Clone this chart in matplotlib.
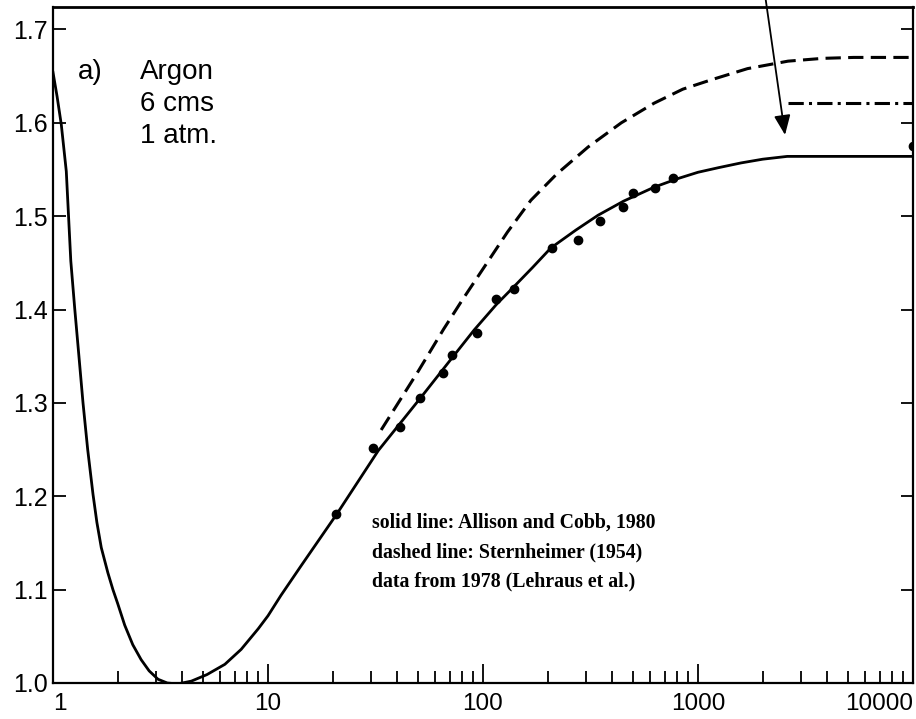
import matplotlib
matplotlib.use("Agg")
import matplotlib.pyplot as plt
from matplotlib.ticker import FixedLocator, NullFormatter

# ---- data ----
solid_x = [1.0, 1.045, 1.093, 1.153, 1.21, 1.262, 1.32, 1.379, 1.45, 1.535, 1.6, 1.677,
           1.8, 1.90, 2.0, 2.155, 2.35, 2.57, 2.8, 3.08, 3.4, 3.8, 4.4, 5.2, 6.3, 7.5,
           9.0, 10.0, 11.5, 14.3, 20.9, 32.6, 51.5, 70, 90.9, 115, 140, 170, 207, 270,
           343, 450, 625, 800, 1000, 1250, 1585, 2000, 2600, 10000]
solid_y = [1.654, 1.628, 1.598, 1.548, 1.452, 1.401, 1.350, 1.300, 1.250, 1.202, 1.172,
           1.145, 1.118, 1.100, 1.085, 1.062, 1.041, 1.025, 1.013, 1.004, 1.000, 0.999,
           1.002, 1.009, 1.020, 1.036, 1.058, 1.072, 1.094, 1.126, 1.181, 1.249, 1.306,
           1.345, 1.378, 1.405, 1.425, 1.445, 1.466, 1.485, 1.501, 1.516, 1.531, 1.540,
           1.547, 1.552, 1.557, 1.561, 1.564, 1.564]

dashed_x = [33.6, 50, 65.6, 80, 101, 130, 167, 220, 308, 440, 625, 850, 1152, 1700,
            2622, 3800, 5300, 10000]
dashed_y = [1.271, 1.334, 1.379, 1.410, 1.445, 1.483, 1.517, 1.545, 1.574, 1.600, 1.621,
            1.636, 1.646, 1.658, 1.666, 1.669, 1.670, 1.670]

dashdot_x = [2622, 10000]
dashdot_y = [1.621, 1.621]

data_x = [20.7, 30.8, 41.1, 50.9, 65.2, 71.7, 93.8, 115, 139, 209, 277, 350, 448, 499,
          631, 765, 10000]
data_y = [1.181, 1.252, 1.274, 1.305, 1.332, 1.351, 1.375, 1.411, 1.422, 1.466, 1.474,
          1.495, 1.510, 1.525, 1.530, 1.541, 1.575]

arrow_start = (2050, 1.737)
arrow_end = (2540, 1.587)

x_major = [1, 10, 100, 1000, 10000]
x_labels = ["1", "10", "100", "1000", "10000"]
x_minor = [m * d for d in [1, 10, 100, 1000] for m in range(2, 10)]
y_ticks = [1.0, 1.1, 1.2, 1.3, 1.4, 1.5, 1.6, 1.7]
y_labels = ["1.0", "1.1", "1.2", "1.3", "1.4", "1.5", "1.6", "1.7"]

label_lines = ["Argon", "6 cms", "1 atm."]
legend_lines = ["solid line: Allison and Cobb, 1980",
                "dashed line: Sternheimer (1954)",
                "data from 1978 (Lehraus et al.)"]

# ---- figure ----
W, H = 916, 719
fig = plt.figure(figsize=(W / 100, H / 100), dpi=100)
ax = fig.add_axes([53 / W, 1 - 683 / H, (913 - 53) / W, (683 - 7) / H])
ax.set_xscale("log")
ax.set_xlim(1, 10000)
ax.set_ylim(1.0, 1.724)

sans = ["Liberation Sans", "DejaVu Sans"]
serif = ["Liberation Serif", "DejaVu Serif"]

ax.plot(solid_x, solid_y, color="black", lw=2.0, solid_joinstyle="round")
ax.plot(dashed_x, dashed_y, color="black", lw=2.2, dashes=(5, 2.4))
ax.plot(dashdot_x, dashdot_y, color="black", lw=2.2, dashes=(5, 1.7, 1, 1.7))
ax.plot(data_x, data_y, "o", color="black", ms=6)

ax.annotate("", xy=arrow_end, xytext=arrow_start, annotation_clip=False,
            arrowprops=dict(arrowstyle="-|>,head_length=1.2,head_width=0.5",
                            color="black", lw=1.3, shrinkA=0, shrinkB=0))

for s in ax.spines.values():
    s.set_linewidth(1.6)
ax.spines["top"].set_linewidth(2.0)

ax.xaxis.set_major_locator(FixedLocator(x_major))
ax.xaxis.set_minor_locator(FixedLocator(x_minor))
ax.xaxis.set_minor_formatter(NullFormatter())
ax.set_xticks(x_major)
ax.set_xticklabels(x_labels, fontfamily=sans, fontsize=17.5)
ax.set_yticks(y_ticks)
ax.set_yticklabels(y_labels, fontfamily=sans, fontsize=18)

ax.tick_params(axis="x", which="major", direction="in", length=14, width=1.3, pad=7)
ax.tick_params(axis="x", which="minor", direction="in", length=8.5, width=1.3)
ax.tick_params(axis="y", which="major", direction="in", length=9, width=1.3, pad=4,
               right=True)
ax.tick_params(axis="y", which="minor", left=False, right=False)

# last x tick label ends at the axis edge, first sits just right of the spine
for lab in ax.get_xticklabels():
    if lab.get_text() == "10000":
        lab.set_horizontalalignment("right")
    if lab.get_text() == "1":
        lab.set_horizontalalignment("left")

# annotation text
fig.text(78 / W, 1 - 72 / H, "a)", fontfamily=sans, fontsize=20, va="center", ha="left")
for i, t in enumerate(label_lines):
    fig.text(140 / W, 1 - (72 + 32 * i) / H, t, fontfamily=sans, fontsize=20,
             va="center", ha="left")

for i, t in enumerate(legend_lines):
    fig.text(372 / W, 1 - (523 + 29 * i) / H, t, fontfamily=serif, fontweight="bold",
             fontsize=14.3, va="center", ha="left")

fig.savefig("out.png", dpi=100)
